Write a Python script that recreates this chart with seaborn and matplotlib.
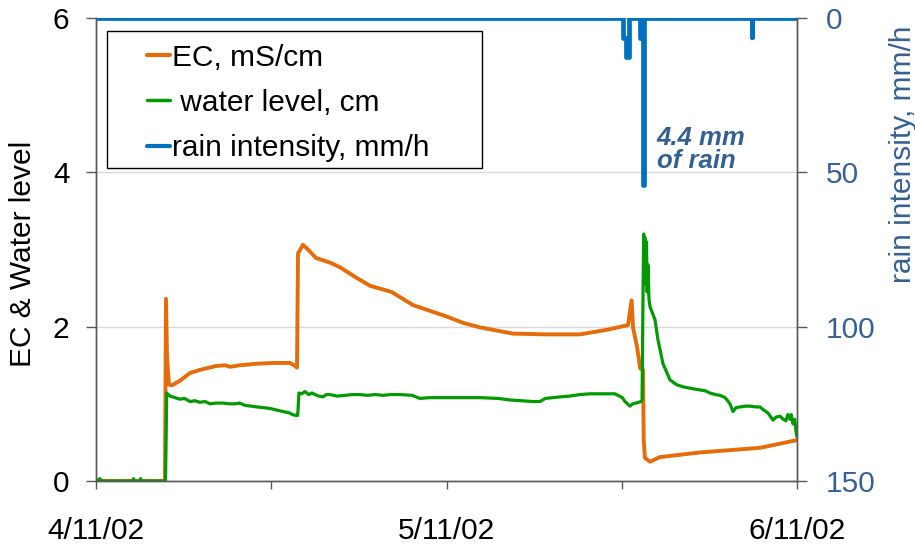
import numpy as np
import pandas as pd
import matplotlib
matplotlib.use("Agg")
import matplotlib.pyplot as plt
import seaborn as sns
from matplotlib.lines import Line2D
from matplotlib.patches import Rectangle

# x in days since 4/11/02
ec_days = [0.00, 6.00, 6.09, 6.18, 6.35, 6.61, 7.31, 8.18, 9.05, 10.44, 11.23, 11.66,
           12.53, 14.01, 15.58, 16.88, 17.23, 17.49, 17.58, 18.01, 18.45, 19.14, 20.36,
           21.23, 22.71, 23.84, 25.72, 27.58, 30.54, 31.93, 33.42, 36.29, 39.25, 42.12,
           44.47, 46.29, 46.61, 46.73, 47.08, 47.35, 47.60, 47.66, 47.77, 48.21, 49.08,
           52.56, 57.78, 61.00]
ec_vals = [0.00, 0.00, 2.36, 1.60, 1.25, 1.24, 1.30, 1.40, 1.44, 1.49, 1.50, 1.48,
           1.50, 1.52, 1.53, 1.53, 1.50, 1.47, 2.95, 3.06, 3.00, 2.89, 2.83,
           2.77, 2.63, 2.53, 2.45, 2.28, 2.13, 2.05, 1.99, 1.91, 1.90, 1.90,
           1.96, 2.02, 2.34, 1.99, 1.74, 1.46, 1.44, 0.53, 0.30, 0.25, 0.31,
           0.37, 0.43, 0.53]

wl_days = [0.00, 0.35, 0.45, 3.22, 3.27, 3.32, 3.83, 3.88, 3.93, 6.05, 6.15, 6.44, 6.87,
           7.31, 7.70, 8.18, 8.60, 9.05, 9.50, 9.92, 10.50, 11.05, 11.60, 12.10, 12.50,
           12.97, 13.50, 14.01, 14.60, 15.14, 15.70, 16.27, 16.60, 16.88, 17.10, 17.40,
           17.55, 17.66, 17.90, 18.19, 18.50, 18.80, 19.06, 19.40, 19.75, 20.05, 20.36,
           21.00, 21.67, 22.30, 22.97, 23.60, 24.28, 25.00, 25.58, 26.50, 27.50, 28.19,
           29.00, 30.80, 32.00, 33.42, 35.00, 36.03, 37.00, 38.00, 38.64, 39.10, 40.38,
           41.20, 42.12, 43.00, 43.86, 45.16, 45.80, 46.03, 46.47, 46.70, 46.99, 47.43,
           47.52, 47.60, 47.66, 47.72, 47.78, 47.84, 47.90, 47.96, 48.03, 48.12, 48.21,
           48.64, 48.90, 49.34, 49.95, 50.50, 51.08, 51.80, 52.56, 53.00, 53.43, 53.90,
           54.30, 54.75, 55.17, 55.43, 55.69, 56.04, 56.50, 56.91, 57.40, 57.78, 58.10,
           58.48, 58.91, 59.20, 59.52, 59.80, 60.04, 60.20, 60.39, 60.50, 60.65, 60.80,
           60.90, 61.00]
wl_vals = [0.00, 0.03, 0.00, 0.00, 0.03, 0.00, 0.00, 0.03, 0.00, 0.00, 1.14, 1.10, 1.08,
           1.06, 1.07, 1.03, 1.04, 1.02, 1.03, 1.00, 1.01, 1.01, 1.00, 1.00, 1.01,
           0.98, 0.97, 0.96, 0.95, 0.94, 0.92, 0.90, 0.89, 0.88, 0.86, 0.85,
           0.85, 1.14, 1.13, 1.16, 1.12, 1.14, 1.12, 1.10, 1.09, 1.12, 1.12,
           1.10, 1.11, 1.12, 1.12, 1.11, 1.12, 1.11, 1.12, 1.12, 1.11, 1.07,
           1.08, 1.08, 1.08, 1.08, 1.07, 1.05, 1.04, 1.03, 1.03, 1.07, 1.09,
           1.10, 1.12, 1.13, 1.13, 1.13, 1.08, 1.03, 0.97, 1.00, 1.01, 1.03,
           1.05, 2.40, 3.20, 2.55, 3.15, 2.60, 3.10, 2.45, 2.80, 2.35, 2.26,
           2.09, 1.83, 1.52, 1.31, 1.25, 1.22, 1.20, 1.18, 1.17, 1.14, 1.12,
           1.11, 1.08, 1.00, 0.90, 0.95, 0.96, 0.97, 0.97, 0.96, 0.96, 0.92,
           0.88, 0.79, 0.83, 0.84, 0.80, 0.78, 0.86, 0.80, 0.86, 0.74, 0.80,
           0.66, 0.57]

rain_days = [0.00, 45.90, 45.90, 46.12, 46.12, 46.38, 46.38, 47.34, 47.34, 47.60,
             47.60, 47.68, 47.68, 57.06, 57.06, 57.08, 57.08, 61.00]
rain_vals = [0.0, 0.0, 6.5, 6.5, 12.5, 12.5, 0.0, 0.0, 6.5, 6.5,
             54.0, 54.0, 0.0, 0.0, 6.3, 6.3, 0.0, 0.0]

x_ticks = [0, 15.25, 30.5, 45.75, 61]
x_labels = ["4/11/02", "", "5/11/02", "", "6/11/02"]

ORANGE = "#E46C0A"
GREEN = "#009A00"
BLUE = "#0070C0"
SLATE = "#376092"
FS = 21.5

sns.set_theme(style="white")
plt.rcParams["font.family"] = ["Liberation Sans", "DejaVu Sans"]
plt.rcParams["text.color"] = "black"

fig = plt.figure(figsize=(9.15, 5.44), dpi=100)
ax = fig.add_axes([96 / 915, 1 - 481 / 544, 701 / 915, 463 / 544])
ax2 = ax.twinx()

sns.lineplot(x=ec_days, y=ec_vals, estimator=None, sort=False, color=ORANGE,
             linewidth=2.8, ax=ax)
sns.lineplot(x=wl_days, y=wl_vals, estimator=None, sort=False, color=GREEN,
             linewidth=2.3, ax=ax)
sns.lineplot(x=rain_days, y=rain_vals, estimator=None, sort=False, color=BLUE,
             linewidth=3.4, ax=ax2)

ax.set_xlim(0, 61)
ax.set_ylim(0, 6)
ax.set_yticks([0, 2, 4, 6])
ax.set_xticks(x_ticks)
ax.set_xticklabels(x_labels)
ax2.set_ylim(150, 0)
ax2.set_yticks([0, 50, 100, 150])

ax.yaxis.grid(True, color="#d9d9d9", linewidth=1)
ax.set_axisbelow(True)

for a in (ax, ax2):
    a.spines["top"].set_visible(False)
    for s in ("left", "right", "bottom"):
        a.spines[s].set_color("#595959")
        a.spines[s].set_linewidth(1)

ax.tick_params(axis="y", left=True, length=7, width=1, color="#595959",
               labelsize=FS, pad=12, labelcolor="black")
ax.tick_params(axis="x", bottom=True, length=6, width=1, color="#595959",
               labelsize=FS, pad=20, labelcolor="black")
ax2.tick_params(axis="y", right=True, length=7, width=1, color="#595959",
                labelsize=FS, pad=14, labelcolor=SLATE)

ax.set_ylabel("EC & Water level", fontsize=FS, color="black")
ax.yaxis.set_label_coords(-0.084, 0.49)
ax2.set_ylabel("rain intensity, mm/h", fontsize=FS, color=SLATE)
ax2.yaxis.set_label_coords(1.131, 0.705)
ax.set_xlabel("")

ax2.text(48.8, 35.0, "4.4 mm\nof rain", color=SLATE, fontsize=18.5, fontweight="bold",
         fontstyle="italic", ha="left", va="top", linespacing=0.95)

# legend frame drawn separately, Excel-style box wider than the text
ax2.add_patch(Rectangle((0.0157, 0.676), 0.535, 0.296, transform=ax2.transAxes,
                        facecolor="white", edgecolor="black", linewidth=1, zorder=4))
handles = [Line2D([], [], color=ORANGE, linewidth=3),
           Line2D([], [], color=GREEN, linewidth=2.5),
           Line2D([], [], color=BLUE, linewidth=3)]
labels = ["EC, mS/cm", " water level, cm", "rain intensity, mm/h"]
leg = ax2.legend(handles, labels, loc="upper left", bbox_to_anchor=(0.0728, 0.944),
                 borderaxespad=0, borderpad=0, fontsize=FS, handlelength=0.77,
                 handletextpad=0.07, labelspacing=0.57, frameon=False,
                 labelcolor="black")
leg.set_zorder(5)

fig.savefig("out.png", dpi=100)
